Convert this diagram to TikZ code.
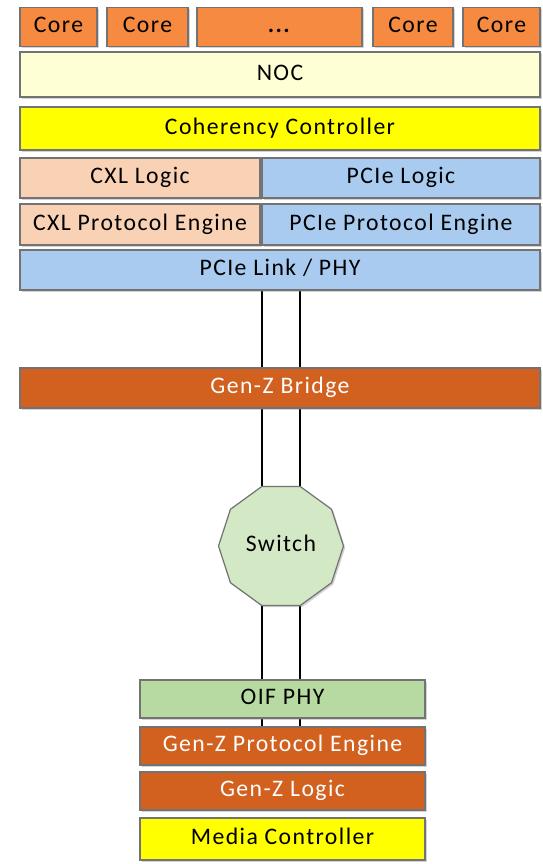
\documentclass[tikz,border=0pt]{standalone}
\usepackage{fontspec}
\setmainfont{Carlito}[LetterSpace=6]
\usepackage{tikz}
\usetikzlibrary{shapes,backgrounds,shadows}

\definecolor{coreor}{HTML}{F58A40}
\definecolor{genzor}{HTML}{D2601F}
\definecolor{nocyel}{HTML}{FFFFD6}
\definecolor{cohyel}{HTML}{FFFF00}
\definecolor{cxlpch}{HTML}{F9D2B6}
\definecolor{pcieblu}{HTML}{A8CBEF}
\definecolor{swgrn}{HTML}{D3E9C6}
\definecolor{phygrn}{HTML}{B6DAA2}

\tikzset{
  blk/.style={draw=black!55, line width=0.7pt, inner sep=0pt,
    font=\fontsize{13.5}{15}\selectfont, text height=0.68em, text depth=0em,
    drop shadow={opacity=0.35, shadow xshift=1pt, shadow yshift=-1pt}},
  wire/.style={line width=1.5pt}
}

\begin{document}
\begin{tikzpicture}[x=0.02cm, y=-0.02cm]
\useasboundingbox (0,0) rectangle (543,864);

% cores on top
\node[blk, fill=coreor, minimum width=1.54cm, minimum height=0.78cm] (core1) at (58.5,27) {Core};
\node[blk, fill=coreor, minimum width=1.62cm, minimum height=0.78cm] (core2) at (147.5,27) {Core};
\node[blk, fill=coreor, minimum width=3.3cm, minimum height=0.78cm] (coren) at (279.5,27) {\textbf{...}};
\node[blk, fill=coreor, minimum width=1.6cm, minimum height=0.78cm] (core3) at (413,27) {Core};
\node[blk, fill=coreor, minimum width=1.54cm, minimum height=0.78cm] (core4) at (501.5,27) {Core};

% host stack
\node[blk, fill=nocyel, minimum width=10.4cm, minimum height=0.9cm] (noc) at (280,74.5) {NOC};
\node[blk, fill=cohyel, minimum width=10.4cm, minimum height=0.86cm] (coh) at (280,128.5) {Coherency Controller};
\node[blk, fill=cxlpch, minimum width=4.8cm, minimum height=0.8cm] (cxllog) at (140,178) {CXL Logic};
\node[blk, fill=pcieblu, minimum width=5.56cm, minimum height=0.8cm] (pcielog) at (401,178) {PCIe Logic};
\node[blk, fill=cxlpch, minimum width=4.8cm, minimum height=0.82cm] (cxlpe) at (140,224.5) {CXL Protocol Engine};
\node[blk, fill=pcieblu, minimum width=5.56cm, minimum height=0.82cm] (pciepe) at (401,224.5) {PCIe Protocol Engine};
\node[blk, fill=pcieblu, minimum width=10.4cm, minimum height=0.8cm] (link) at (280,270) {PCIe Link / PHY};

\node[blk, fill=genzor, text=white, minimum width=10.4cm, minimum height=0.8cm] (bridge) at (280,388) {Gen-Z Bridge};

\node[blk, fill=swgrn, regular polygon, regular polygon sides=10, minimum size=2.5cm] (switch) at (281,546) {Switch};

% media side
\node[blk, fill=phygrn, minimum width=5.7cm, minimum height=0.76cm] (oif) at (282.5,699) {OIF PHY};
\node[blk, fill=genzor, text=white, minimum width=5.7cm, minimum height=0.76cm] (gzpe) at (282.5,746) {Gen-Z Protocol Engine};
\node[blk, fill=genzor, text=white, minimum width=5.7cm, minimum height=0.76cm] (gzlog) at (282.5,791) {Gen-Z Logic};
\node[blk, fill=cohyel, minimum width=5.7cm, minimum height=0.84cm] (media) at (282.5,839) {Media Controller};

% the two lanes
\coordinate (lnA) at (262,0);
\coordinate (lnB) at (300,0);
\begin{scope}[on background layer]
\foreach \ln in {lnA,lnB} {
  \draw[wire] (link.south -| \ln) -- (bridge.north -| \ln);
  \draw[wire] (bridge.south -| \ln) -- (switch.center -| \ln);
  \draw[wire] (switch.center -| \ln) -- (gzpe.north -| \ln);
}
\end{scope}
\end{tikzpicture}
\end{document}
